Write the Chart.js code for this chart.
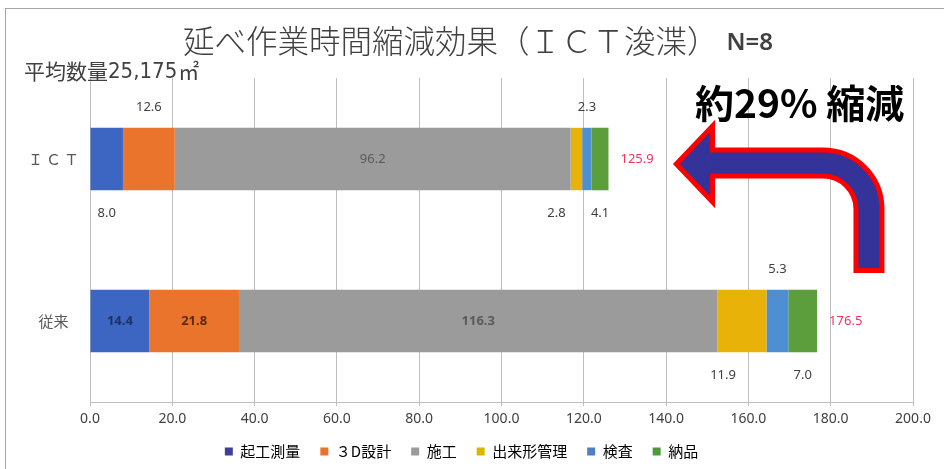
<!DOCTYPE html>
<html lang="ja">
<head>
<meta charset="utf-8">
<script src="https://cdn.jsdelivr.net/npm/chart.js@4/dist/chart.umd.min.js"></script>
<style>
    html, body { margin: 0; padding: 0; background: #fff; }
    #wrap { width: 944px; height: 469px; }
</style>
</head>
<body>
<div id="wrap"><canvas id="chart" width="944" height="469"></canvas></div>
<script>
// data
const categories = ['Ｉ\u2009Ｃ\u2009Ｔ', '従来'];
const seriesNames = ['起工測量', '３D設計', '施工', '出来形管理', '検査', '納品'];
const kikouSokuryo = [8.0, 14.4];
const sekkei3d = [12.6, 21.8];
const sekou = [96.2, 116.3];
const dekigata = [2.8, 11.9];
const kensa = [2.3, 5.3];
const nouhin = [4.1, 7.0];
const totals = [125.9, 176.5];

const seriesColors = ['#3d66c2', '#ea742b', '#9b9b9b', '#e9b208', '#4e8fd4', '#5c9d3c'];
const legendColors = ['#3f3f9a', '#ea742b', '#9b9b9b', '#d6b800', '#4e7fc4', '#4c9a3c'];
const insideColors = ['#1f3266', '#5a2c08', '#5a5a5a', '#404040', '#404040', '#404040'];

// where each value label sits: [place, x nudge] per category, per series
const labelPlace = [
    [['below', 0], ['above', 0], ['in', 0], ['below', -20], ['above', 0], ['below', 0]],
    [['in', 0], ['in', 0], ['in', 0], ['below', -19], ['above', 0], ['below', 0]]
];

const FONT = "'Noto Sans CJK JP', 'Noto Sans', sans-serif";
const NUMFONT = "'Noto Sans', 'Liberation Sans', sans-serif";

const valueLabels = {
    id: 'valueLabels',
    afterDatasetsDraw(chart) {
        const ctx = chart.ctx;
        ctx.save();
        chart.data.datasets.forEach((ds, i) => {
            const meta = chart.getDatasetMeta(i);
            meta.data.forEach((bar, j) => {
                const [place, dx] = labelPlace[j][i];
                const cx = (bar.x + bar.base) / 2 + dx;
                const half = bar.height / 2;
                let cy = bar.y;
                ctx.fillStyle = '#404040';
                ctx.font = '13px ' + NUMFONT;
                if (place === 'above') cy = bar.y - half - 21;
                if (place === 'below') cy = bar.y + half + 23;
                if (place === 'in') {
                    ctx.fillStyle = insideColors[i];
                    ctx.font = (j === 1 ? 'bold ' : '') + '13px ' + NUMFONT;
                }
                ctx.textAlign = 'center';
                ctx.textBaseline = 'middle';
                ctx.fillText(ds.data[j].toFixed(1), cx, cy);
            });
        });
        // totals at the bar ends
        const last = chart.getDatasetMeta(chart.data.datasets.length - 1);
        last.data.forEach((bar, j) => {
            ctx.fillStyle = '#f2335c';
            ctx.font = '13px ' + NUMFONT;
            ctx.textAlign = 'left';
            ctx.textBaseline = 'middle';
            ctx.fillText(totals[j].toFixed(1), bar.x + 12, bar.y);
        });
        ctx.restore();
    }
};

const decorations = {
    id: 'decorations',
    afterDraw(chart) {
        const ctx = chart.ctx;
        const x = chart.scales.x;
        const ictBar = chart.getDatasetMeta(0).data[0];
        const oldBar = chart.getDatasetMeta(0).data[1];
        ctx.save();

        // outer frame
        ctx.strokeStyle = '#a6a6a6';
        ctx.lineWidth = 1;
        ctx.strokeRect(5.5, 8.5, 960, 480);

        // title
        ctx.fillStyle = '#404040';
        ctx.textBaseline = 'middle';
        ctx.textAlign = 'left';
        ctx.font = '300 31.5px ' + FONT;
        const title = '延べ作業時間縮減効果（ＩＣＴ浚渫）';
        ctx.fillText(title, 183, 41);
        const tw = ctx.measureText(title).width;
        ctx.font = '600 24px ' + NUMFONT;
        ctx.fillText('N=8', 183 + tw + 8, 43);

        // sub caption: average quantity
        ctx.font = '21px ' + FONT;
        ctx.fillText('平均数量', 24, 71);
        let sx = 24 + ctx.measureText('平均数量').width;
        ctx.font = '22px "DejaVu Sans Condensed", "DejaVu Sans", sans-serif';
        ctx.fillText('25,175', sx, 72);
        sx += ctx.measureText('25,175').width + 1;
        ctx.font = '21px ' + FONT;
        ctx.fillText('㎡', sx, 71);

        // reduction arrow
        const tipX = x.getPixelForValue(142.5);
        const headX = x.getPixelForValue(151.3);
        const shaftX = x.getPixelForValue(189.3);
        const shaftY = ictBar.y + 4;
        const bottomY = oldBar.y - 48;
        const r = 46;
        const shaft = (startX, endY) => {
            ctx.beginPath();
            ctx.moveTo(startX, shaftY);
            ctx.lineTo(shaftX - r, shaftY);
            ctx.arcTo(shaftX, shaftY, shaftX, shaftY + r, r);
            ctx.lineTo(shaftX, endY);
            ctx.stroke();
        };
        ctx.lineCap = 'butt';
        ctx.strokeStyle = '#ff0000';
        ctx.lineWidth = 31;
        shaft(headX, bottomY);

        ctx.beginPath();
        ctx.moveTo(tipX, shaftY + 1);
        ctx.lineTo(headX, shaftY - 37);
        ctx.lineTo(headX, shaftY + 39);
        ctx.closePath();
        ctx.fillStyle = '#333399';
        ctx.fill();
        ctx.lineWidth = 5;
        ctx.lineJoin = 'miter';
        ctx.stroke();

        ctx.strokeStyle = '#333399';
        ctx.lineWidth = 21;
        shaft(headX - 8, bottomY - 5);

        // reduction note
        ctx.fillStyle = '#000';
        ctx.font = 'bold 39px ' + FONT;
        ctx.textAlign = 'left';
        ctx.fillText('約29% 縮減', x.getPixelForValue(147), ictBar.y - 56);
        ctx.restore();
    }
};

const seriesData = [kikouSokuryo, sekkei3d, sekou, dekigata, kensa, nouhin];

new Chart(document.getElementById('chart'), {
    type: 'bar',
    data: {
        labels: categories,
        datasets: seriesNames.map((name, i) => ({
            label: name,
            data: seriesData[i],
            backgroundColor: seriesColors[i],
            borderWidth: 0,
            barPercentage: 1,
            categoryPercentage: 0.385
        }))
    },
    options: {
        indexAxis: 'y',
        responsive: false,
        animation: false,
        layout: { padding: { top: 78, left: 10, right: 31, bottom: 0 } },
        scales: {
            x: {
                stacked: true,
                min: 0,
                max: 200,
                afterFit: scale => { scale.height = 22; },
                ticks: {
                    stepSize: 20,
                    color: '#404040',
                    font: { family: NUMFONT, size: 14 },
                    padding: 5,
                    callback: v => v.toFixed(1)
                },
                grid: { color: '#bfbfbf', tickLength: 4 },
                border: { color: '#bfbfbf' }
            },
            y: {
                stacked: true,
                afterFit: scale => { scale.width = 80; },
                ticks: {
                    color: '#595959',
                    crossAlign: 'center',
                    font: { family: FONT, size: 15 }
                },
                grid: { display: false },
                border: { display: false }
            }
        },
        plugins: {
            legend: {
                position: 'bottom',
                labels: {
                    boxWidth: 8,
                    boxHeight: 8,
                    padding: 20,
                    color: '#595959',
                    font: { family: FONT, size: 15 },
                    generateLabels: chart => chart.data.datasets.map((ds, i) => ({
                        text: ds.label,
                        fillStyle: legendColors[i],
                        strokeStyle: legendColors[i],
                        lineWidth: 0,
                        datasetIndex: i
                    }))
                }
            },
            tooltip: { enabled: false }
        }
    },
    plugins: [valueLabels, decorations]
});
</script>
</body>
</html>
